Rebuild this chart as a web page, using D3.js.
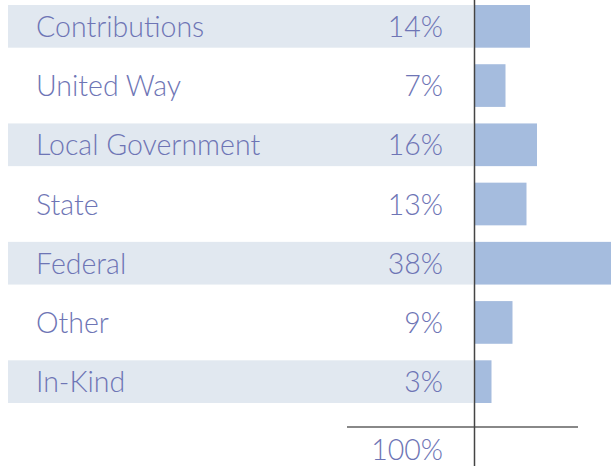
<!DOCTYPE html>
<html lang="en">
<head>
  <meta charset="UTF-8">
  <title>Funding Sources</title>
  <script src="https://d3js.org/d3.v7.min.js"></script>
  <style>
    body { margin: 0; background: #fff; }
    svg { display: block; }
    .lbl { font-family: Lato, "Open Sans", sans-serif; font-weight: 300; font-size: 28.5px; fill: #6e75b5; }
  </style>
</head>
<body>
<div class="main"></div>
<script>
  // data
  var categories = ["Contributions", "United Way", "Local Government", "State", "Federal", "Other", "In-Kind"];
  var percents = [14, 7, 16, 13, 38, 9, 3];
  var totalLabel = "100%";

  var width = 611, height = 466;
  var axisX = 474.5;

  var svg = d3.select(".main")
          .append("svg")
          .attr("width", width)
          .attr("height", height);

  var yScale = d3.scaleBand()
          .domain(categories)
          .range([5, 403])
          .paddingInner(0.279)
          .paddingOuter(0);

  // bars don't start at exactly zero width in the original, small offset
  var xScale = d3.scaleLinear()
          .domain([0, 40])
          .range([axisX + 6, axisX + 146]);

  var rows = categories.map(function (c, i) { return {name: c, value: percents[i], idx: i}; });

  // light bands on every other row
  svg.append("g").selectAll("rect")
          .data(rows.filter(function (d) { return d.idx % 2 == 0; }))
          .join("rect")
          .attr("x", 8)
          .attr("y", function (d) { return yScale(d.name); })
          .attr("width", axisX - 1 - 8)
          .attr("height", yScale.bandwidth())
          .attr("fill", "#e1e8f0");

  // bars
  svg.append("g").selectAll("rect")
          .data(rows)
          .join("rect")
          .attr("x", axisX + 0.5)
          .attr("y", function (d) { return yScale(d.name); })
          .attr("width", function (d) { return xScale(d.value) - axisX; })
          .attr("height", yScale.bandwidth())
          .attr("fill", "#a5bcde");

  // category names
  svg.append("g").selectAll("text")
          .data(rows)
          .join("text")
          .attr("class", "lbl")
          .attr("x", 36)
          .attr("y", function (d) { return yScale(d.name) + yScale.bandwidth() / 2 + 10.5; })
          .text(function (d) { return d.name; });

  // percent values
  svg.append("g").selectAll("text")
          .data(rows)
          .join("text")
          .attr("class", "lbl")
          .attr("x", 443)
          .attr("text-anchor", "end")
          .attr("y", function (d) { return yScale(d.name) + yScale.bandwidth() / 2 + 10.5; })
          .text(function (d) { return d.value + "%"; });

  // total rule + label
  svg.append("line")
          .attr("x1", 347).attr("x2", 578)
          .attr("y1", 427).attr("y2", 427)
          .attr("stroke", "#888").attr("stroke-width", 2);

  svg.append("text")
          .attr("class", "lbl")
          .attr("x", 443)
          .attr("y", 460)
          .attr("text-anchor", "end")
          .text(totalLabel);

  // vertical axis line
  svg.append("line")
          .attr("x1", axisX).attr("x2", axisX)
          .attr("y1", 0).attr("y2", height)
          .attr("stroke", "#444").attr("stroke-width", 1.5);
</script>
</body>
</html>
